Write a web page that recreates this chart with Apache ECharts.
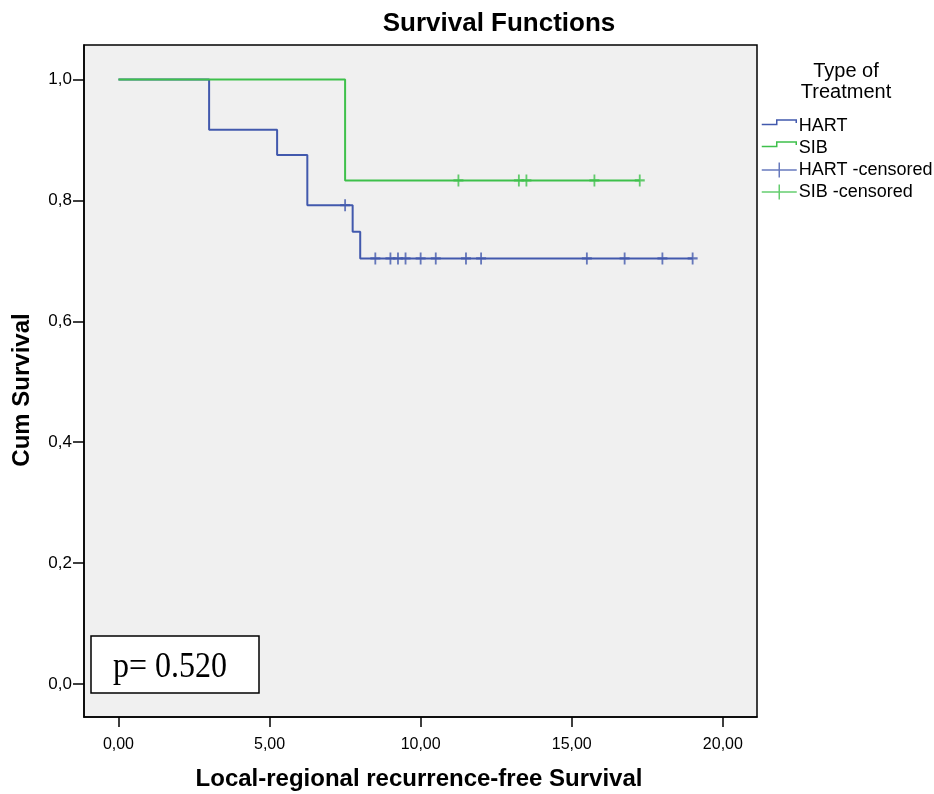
<!DOCTYPE html>
<html>
<head>
<meta charset="utf-8">
<title>Survival Functions</title>
<script src="https://cdn.jsdelivr.net/npm/echarts@6/dist/echarts.min.js"></script>
<style>
  html, body { margin: 0; padding: 0; background: #fff; }
  #myChart { width: 934px; height: 794px; }
</style>
</head>
<body>
<div id="myChart"></div>
<script>
// Kaplan-Meier steps (time, cum survival)
const hartTimes = [0, 3.0, 5.25, 6.25, 7.75, 8.0, 19.0]
const hartSurv = [1.0, 0.917, 0.875, 0.792, 0.748, 0.704, 0.704]
const sibTimes = [0, 7.5, 17.25]
const sibSurv = [1.0, 0.833, 0.833]
// censored marks
const hartCensorTimes = [7.5, 8.5, 9.0, 9.25, 9.5, 10.0, 10.5, 11.5, 12.0, 15.5, 16.75, 18.0, 19.0]
const hartCensorSurv = [0.792, 0.704, 0.704, 0.704, 0.704, 0.704, 0.704, 0.704, 0.704, 0.704, 0.704, 0.704, 0.704]
const sibCensorTimes = [11.25, 13.25, 13.5, 15.75, 17.25]
const sibCensorSurv = [0.833, 0.833, 0.833, 0.833, 0.833]
// tick labels
const xTicks = [0, 5, 10, 15, 20]
const yTicks = [0, 0.2, 0.4, 0.6, 0.8, 1.0]
const seriesNames = ['HART', 'SIB', 'HART -censored', 'SIB -censored']

const blue = '#4259ad'
const green = '#3ec04b'
const fontFamily = 'Liberation Sans, Arial, sans-serif'

function pairs(xs, ys) {
  return xs.map((x, i) => [x, ys[i]])
}

// the leading moves fix the icon box to 35x15
const stepIcon = 'path://M0,0M35,15M0,6L15,6L15,1.5L34.5,1.5L34.5,4.5'
const censorIcon = 'path://M0,7.5L35,7.5M17.5,0L17.5,15'
const censorSymbol = 'path://M5,0L5,12M0,6L10,6'

const myChart = echarts.init(document.getElementById('myChart'))
myChart.setOption({
  animation: false,
  backgroundColor: '#fff',
  title: {
    text: 'Survival Functions',
    left: 499,
    top: 11,
    padding: 0,
    textAlign: 'center',
    textStyle: { fontFamily, fontSize: 26, fontWeight: 'bold', color: '#000' }
  },
  grid: {
    left: 84,
    right: 177,
    top: 45,
    bottom: 77,
    show: true,
    backgroundColor: '#f0f0f0',
    borderColor: '#000',
    borderWidth: 1.5
  },
  legend: {
    orient: 'vertical',
    left: 761,
    top: 117,
    padding: 0,
    itemWidth: 35,
    itemHeight: 15,
    itemGap: 4,
    textStyle: { fontFamily, fontSize: 18, color: '#000', padding: [0, 0, 0, -3] },
    data: [
      { name: seriesNames[0], icon: stepIcon, itemStyle: { color: 'transparent', borderColor: blue, borderWidth: 1.5 } },
      { name: seriesNames[1], icon: stepIcon, itemStyle: { color: 'transparent', borderColor: green, borderWidth: 1.5 } },
      { name: seriesNames[2], icon: censorIcon, itemStyle: { color: 'transparent', borderColor: blue, borderWidth: 1.5 } },
      { name: seriesNames[3], icon: censorIcon, itemStyle: { color: 'transparent', borderColor: green, borderWidth: 1.5 } }
    ]
  },
  graphic: [
    {
      // legend title
      type: 'text',
      x: 846,
      y: 61,
      style: {
        text: 'Type of\nTreatment',
        textAlign: 'center',
        textVerticalAlign: 'top',
        fill: '#000',
        font: '20px "Liberation Sans", Arial, sans-serif',
        lineHeight: 21
      }
    },
    {
      type: 'text',
      x: 22,
      y: 390,
      rotation: Math.PI / 2,
      style: {
        text: 'Cum Survival',
        textAlign: 'center',
        textVerticalAlign: 'middle',
        fill: '#000',
        font: 'bold 24px "Liberation Sans", Arial, sans-serif'
      }
    },
    {
      type: 'text',
      x: 419,
      y: 779,
      style: {
        text: 'Local-regional recurrence-free Survival',
        textAlign: 'center',
        textVerticalAlign: 'middle',
        fill: '#000',
        font: 'bold 24px "Liberation Sans", Arial, sans-serif'
      }
    },
    {
      // p-value box
      type: 'group',
      x: 91,
      y: 636,
      children: [
        {
          type: 'rect',
          shape: { x: 0, y: 0, width: 168, height: 57 },
          style: { fill: '#fff', stroke: '#000', lineWidth: 1.5 }
        },
        {
          type: 'text',
          x: 22,
          y: 31,
          scaleY: 1.15,
          style: {
            text: 'p= 0.520',
            textVerticalAlign: 'middle',
            fill: '#000',
            font: '32px "Liberation Serif", "Times New Roman", serif'
          }
        }
      ]
    }
  ],
  xAxis: {
    type: 'value',
    min: -1.14,
    max: 21.13,
    splitLine: { show: false },
    axisLine: { show: true, onZero: false, lineStyle: { color: '#000', width: 1.5 } },
    axisTick: { show: true, length: 10, customValues: xTicks, lineStyle: { color: '#000', width: 1.5 } },
    axisLabel: {
      customValues: xTicks,
      margin: 20,
      fontFamily,
      fontSize: 16,
      color: '#000',
      formatter: v => v.toFixed(2).replace('.', ',')
    }
  },
  yAxis: {
    type: 'value',
    min: -0.0546,
    max: 1.057,
    splitLine: { show: false },
    axisLine: { show: true, onZero: false, lineStyle: { color: '#000', width: 1.5 } },
    axisTick: { show: true, length: 11, customValues: yTicks, lineStyle: { color: '#000', width: 1.5 } },
    axisLabel: {
      customValues: yTicks,
      margin: 12,
      fontFamily,
      fontSize: 17,
      color: '#000',
      formatter: v => v.toFixed(1).replace('.', ',')
    }
  },
  series: [
    {
      name: seriesNames[0],
      type: 'line',
      step: 'end',
      showSymbol: false,
      symbol: 'none',
      color: blue,
      lineStyle: { color: blue, width: 2 },
      data: pairs(hartTimes, hartSurv)
    },
    {
      name: seriesNames[1],
      type: 'line',
      step: 'end',
      showSymbol: false,
      symbol: 'none',
      color: green,
      lineStyle: { color: green, width: 2 },
      data: pairs(sibTimes, sibSurv)
    },
    {
      name: seriesNames[2],
      type: 'scatter',
      symbol: censorSymbol,
      symbolSize: [10, 12],
      itemStyle: { color: 'transparent', borderColor: blue, borderWidth: 2 },
      data: pairs(hartCensorTimes, hartCensorSurv)
    },
    {
      name: seriesNames[3],
      type: 'scatter',
      symbol: censorSymbol,
      symbolSize: [10, 12],
      itemStyle: { color: 'transparent', borderColor: green, borderWidth: 2 },
      data: pairs(sibCensorTimes, sibCensorSurv)
    }
  ]
})
</script>
</body>
</html>
